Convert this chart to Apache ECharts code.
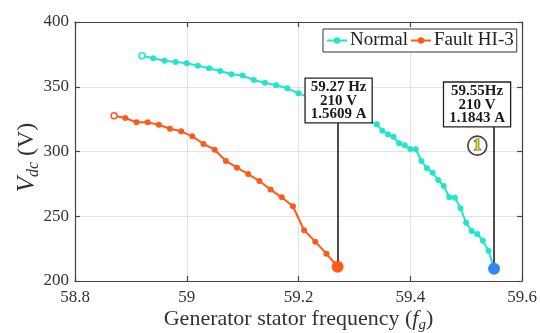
<!DOCTYPE html>
<html>
<head>
<meta charset="utf-8">
<script src="https://cdn.jsdelivr.net/npm/echarts@6/dist/echarts.min.js"></script>
<style>html,body{margin:0;padding:0;background:#fff;}#c{width:540px;height:333px;}</style>
</head>
<body>
<div id="c"></div>
<script>
// ---- data ----
const seriesNames = ['Normal', 'Fault HI-3'];
const normalFreq = [58.92,58.94,58.96,58.98,59.00,59.02,59.04,59.06,59.08,59.10,59.12,59.14,59.16,59.18,59.20,
  59.34,59.35,59.36,59.37,59.38,59.39,59.40,59.41,59.42,59.43,59.44,59.45,59.46,59.47,59.48,59.49,59.50,59.51,59.52,59.53,59.54,59.55];
const normalVdc = [374,372,370.1,369.1,368.1,366.3,364.3,362.2,359.6,358.6,355.2,353.1,351.1,348.8,344.9,
  321.0,316.1,313.3,311.4,306.3,304.8,301.9,301.7,292.7,287.0,283.6,278.0,273.4,264.6,264.3,256.1,245.0,238.6,236.3,231.1,223.4,209.5];
const faultFreq = [58.87,58.89,58.91,58.93,58.95,58.97,58.99,59.01,59.03,59.05,59.07,59.09,59.11,59.13,59.15,59.17,59.19,59.21,59.23,59.25,59.27];
const faultVdc = [327.6,325.9,322.5,322.5,320.7,317.6,315.6,311.7,305.8,301.4,292.7,287.5,282.6,277.2,270.6,264.6,257.7,239.2,230.4,221.1,211];
const xTicks = [58.8, 59, 59.2, 59.4, 59.6];
const yTicks = [200, 250, 300, 350, 400];
const annoText = [['59.27 Hz','210 V','1.5609 A'], ['59.55Hz','210 V','1.1843 A']];
const circleLabel = '1';

// ---- styles ----
const FONT = 'Liberation Serif';
const cNormal = '#22e6cc', cFault = '#ff5a1a', cEnd = '#3385f0';
const annoBoxBottom = [322.2, 319.2];
const annoOffsetX = [1, -17];
const circlePos = [59.52, 304.5];

function mkData(xs, ys, color, endColor) {
  return xs.map((x, i) => {
    const d = { value: [x, ys[i]] };
    if (i === 0) d.itemStyle = { color: '#fff', borderColor: color, borderWidth: 1.5 };
    if (i === xs.length - 1) { d.symbolSize = 12; d.itemStyle = { color: endColor }; }
    return d;
  });
}
function boxLabel(k) {
  return {
    show: true, position: 'top', distance: 0, offset: [annoOffsetX[k], 0],
    formatter: annoText[k].join('\n'),
    backgroundColor: '#fff', borderColor: '#222', borderWidth: 1.3,
    padding: [2, 5, 1, 5], fontFamily: FONT, fontWeight: 'bold', fontSize: 15,
    lineHeight: 13.5, color: '#1a1a1a', align: 'center'
  };
}
function annoMarks(k, xs, ys) {
  const x = xs[xs.length - 1], y = ys[ys.length - 1];
  return {
    markLine: {
      silent: true, symbol: 'none', animation: false,
      lineStyle: { color: '#111', width: 1.5, type: 'solid' }, label: { show: false },
      data: [[{ coord: [x, y] }, { coord: [x, annoBoxBottom[k]] }]], z: 1
    },
    markPoint: {
      silent: true, animation: false, symbol: 'circle', symbolSize: 1,
      itemStyle: { color: 'rgba(0,0,0,0)' },
      data: [{ coord: [x, annoBoxBottom[k]], label: boxLabel(k) }]
    }
  };
}
const axisLineStyle = { color: '#444', width: 1.2 };
const tickCommon = { inside: true, length: 5, lineStyle: { color: '#444', width: 1.2 } };

const chart = echarts.init(document.getElementById('c'), null, { renderer: 'canvas' });
const option = {
  animation: false,
  backgroundColor: '#fff',
  textStyle: { fontFamily: FONT },
  grid: { left: 75, right: 18, top: 22, bottom: 52, containLabel: false, outerBoundsMode: 'none' },
  legend: {
    data: seriesNames, left: 323, top: 29, orient: 'horizontal',
    backgroundColor: '#fff', borderColor: '#333', borderWidth: 1, borderRadius: 0,
    padding: [2, 3, 2, 3], itemGap: 2, itemWidth: 20, itemHeight: 8,
    textStyle: { fontFamily: FONT, fontSize: 19, color: '#222', padding: [0, 0, 0, -2] }
  },
  xAxis: [{
    type: 'value', min: 58.8, max: 59.6, interval: 0.2,
    name: 'Generator stator frequency ({i|f}{s|g})', nameLocation: 'middle', nameGap: 25,
    nameMoveOverlap: false,
    nameTextStyle: {
      fontFamily: FONT, fontSize: 22, color: '#333',
      rich: { i: { fontFamily: FONT, fontSize: 22, fontStyle: 'italic', color: '#333', lineHeight: 27, verticalAlign: 'middle' },
              s: { fontFamily: FONT, fontSize: 15, fontStyle: 'italic', color: '#333', lineHeight: 10, verticalAlign: 'bottom' } }
    },
    axisLine: { show: true, lineStyle: axisLineStyle }, axisTick: tickCommon,
    axisLabel: { fontFamily: FONT, fontSize: 17, color: '#333', margin: 8,
      formatter: v => { const t = xTicks.find(a => Math.abs(a - v) < 1e-6); return t === undefined ? '' : String(t); } },
    splitLine: { show: true, lineStyle: { color: '#e3e3e3', width: 1 } }
  }, {
    type: 'value', position: 'top', min: 58.8, max: 59.6, interval: 0.2,
    axisLine: { show: true, onZero: false, lineStyle: axisLineStyle }, axisTick: tickCommon,
    axisLabel: { show: false }, splitLine: { show: false }
  }],
  yAxis: [{
    type: 'value', min: 200, max: 400, interval: 50,
    name: '{v|V}{s|dc} (V)', nameLocation: 'middle', nameGap: 33, nameRotate: 90,
    nameMoveOverlap: false,
    nameTextStyle: {
      fontFamily: FONT, fontSize: 24, color: '#333', padding: [0, 12, 0, 0],
      rich: { v: { fontFamily: FONT, fontSize: 25, fontStyle: 'italic', color: '#333', lineHeight: 30, verticalAlign: 'middle' },
              s: { fontFamily: FONT, fontSize: 16, fontStyle: 'italic', color: '#333', lineHeight: 11, verticalAlign: 'bottom' } }
    },
    axisLine: { show: true, lineStyle: axisLineStyle }, axisTick: tickCommon,
    axisLabel: { fontFamily: FONT, fontSize: 17, color: '#333', margin: 6,
      formatter: v => (yTicks.indexOf(v) >= 0 ? String(v) : '') },
    splitLine: { show: true, lineStyle: { color: '#e3e3e3', width: 1 } }
  }, {
    type: 'value', position: 'right', min: 200, max: 400, interval: 50,
    axisLine: { show: true, onZero: false, lineStyle: axisLineStyle }, axisTick: tickCommon,
    axisLabel: { show: false }, splitLine: { show: false }
  }],
  series: [
    Object.assign({
      name: seriesNames[0], type: 'line', xAxisIndex: 0, yAxisIndex: 0,
      data: mkData(normalFreq, normalVdc, cNormal, cEnd),
      symbol: 'circle', symbolSize: 6, showSymbol: true,
      lineStyle: { color: cNormal, width: 2 }, itemStyle: { color: cNormal }, z: 3
    }, annoMarks(1, normalFreq, normalVdc)),
    Object.assign({
      name: seriesNames[1], type: 'line', xAxisIndex: 0, yAxisIndex: 0,
      data: mkData(faultFreq, faultVdc, cFault, cFault),
      symbol: 'circle', symbolSize: 6, showSymbol: true,
      lineStyle: { color: cFault, width: 2 }, itemStyle: { color: cFault }, z: 3
    }, annoMarks(0, faultFreq, faultVdc)),
    {
      type: 'scatter', name: 'circle', xAxisIndex: 0, yAxisIndex: 0, silent: true,
      data: [circlePos], symbol: 'circle', symbolSize: 19,
      itemStyle: { color: '#fff', borderColor: '#111', borderWidth: 1.6 },
      label: { show: true, position: 'inside', formatter: circleLabel, fontFamily: FONT,
        fontWeight: 'bold', fontSize: 17, color: '#e8dc00', textBorderColor: '#222', textBorderWidth: 1.2 },
      z: 4
    }
  ]
};
chart.setOption(option);
</script>
</body>
</html>
